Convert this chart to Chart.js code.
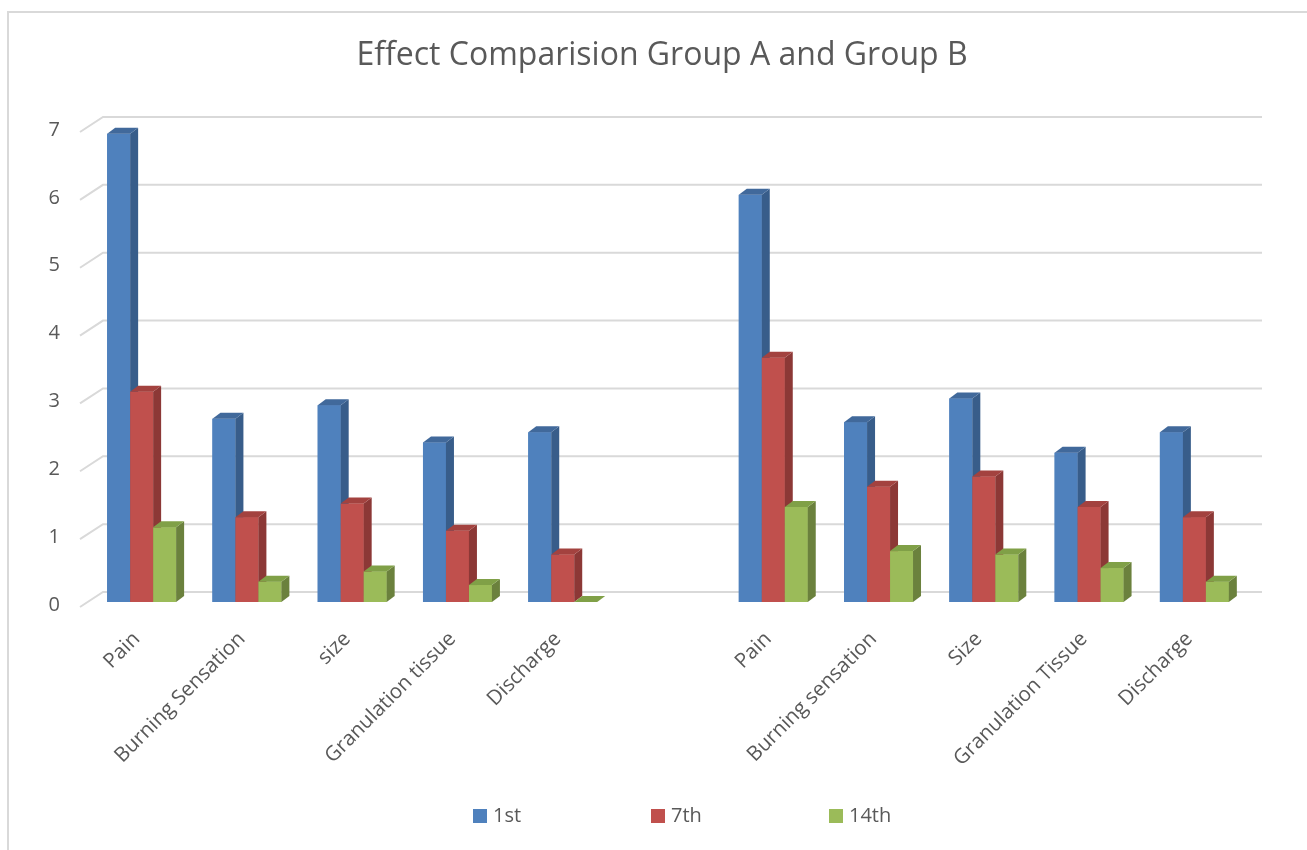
<!DOCTYPE html>
<html>
<head>
<meta charset="utf-8">
<script src="https://cdn.jsdelivr.net/npm/chart.js@4.4.1/dist/chart.umd.min.js"></script>
<style>
  html, body { margin: 0; padding: 0; background: #fff; }
  #wrap { width: 1307px; height: 850px; position: relative; }
</style>
</head>
<body>
<div id="wrap"><canvas id="effectChart" width="1307" height="850"></canvas></div>
<script>
// dados
const categories = ['Pain', 'Burning Sensation', 'size', 'Granulation tissue', 'Discharge', '',
                    'Pain', 'Burning sensation', 'Size', 'Granulation Tissue', 'Discharge'];
const day1st  = [6.9, 2.7, 2.9, 2.35, 2.5, null, 6.0, 2.65, 3.0, 2.2, 2.5];
const day7th  = [3.1, 1.25, 1.45, 1.05, 0.7, null, 3.6, 1.7, 1.85, 1.4, 1.25];
const day14th = [1.1, 0.3, 0.45, 0.25, 0, null, 1.4, 0.75, 0.7, 0.5, 0.3];
const seriesNames = ['1st', '7th', '14th'];
const yTicks = [0, 1, 2, 3, 4, 5, 6, 7];
const titleText = 'Effect Comparision Group A and Group B';

const FONT = '"Open Sans", "DejaVu Sans", sans-serif';
const TXT = '#595959';
const colors = [
    { front: '#4F81BD', side: '#385D8A', top: '#41699B' },
    { front: '#C0504D', side: '#8C3836', top: '#A3423F' },
    { front: '#9BBB59', side: '#6B813D', top: '#80A047' }
];
const DX = 8, DY = 6;

// paredes / grade em perspectiva
const gridPlugin = {
    id: 'grid3d',
    beforeDatasetsDraw(c) {
        const y = c.scales.y, a = c.chartArea, ctx = c.ctx;
        ctx.save();
        ctx.strokeStyle = '#D9D9D9';
        ctx.lineWidth = 2;
        yTicks.forEach(v => {
            const py = y.getPixelForValue(v);
            ctx.beginPath();
            ctx.moveTo(a.left - 9, py + 5);
            ctx.lineTo(a.left + 14, py - 10);
            ctx.lineTo(a.right + 15, py - 10);
            ctx.stroke();
        });
        ctx.restore();
    }
};

// redesenha as barras (frente, lado, topo) na ordem 1st -> 14th
const bar3dPlugin = {
    id: 'bar3d',
    afterDatasetsDraw(c) {
        const ctx = c.ctx;
        ctx.save();
        c.data.datasets.forEach((ds, di) => {
            const meta = c.getDatasetMeta(di);
            const col = colors[di];
            meta.data.forEach((bar, i) => {
                if (ds.data[i] == null) return;
                const w = bar.width, l = bar.x - w / 2, r = bar.x + w / 2;
                const top = bar.y, base = bar.base;
                ctx.fillStyle = col.front;
                ctx.fillRect(l, top, w, base - top);
                ctx.fillStyle = col.side;
                ctx.beginPath();
                ctx.moveTo(r, top); ctx.lineTo(r + DX, top - DY);
                ctx.lineTo(r + DX, base - DY); ctx.lineTo(r, base);
                ctx.closePath(); ctx.fill();
                ctx.fillStyle = col.top;
                ctx.beginPath();
                ctx.moveTo(l, top); ctx.lineTo(l + DX, top - DY);
                ctx.lineTo(r + DX, top - DY); ctx.lineTo(r, top);
                ctx.closePath(); ctx.fill();
            });
        });
        ctx.restore();
    }
};

// moldura, título e legenda
const framePlugin = {
    id: 'frame',
    beforeDraw(c) {
        const ctx = c.ctx;
        ctx.save();
        ctx.strokeStyle = '#D9D9D9';
        ctx.lineWidth = 2;
        ctx.strokeRect(8, 12, 1320, 860);
        ctx.restore();
    },
    afterDraw(c) {
        const ctx = c.ctx;
        ctx.save();
        ctx.fillStyle = TXT;
        ctx.font = '32px ' + FONT;
        ctx.textAlign = 'center';
        ctx.textBaseline = 'middle';
        ctx.fillText(titleText, 662, 56);

        ctx.font = '20px ' + FONT;
        ctx.textAlign = 'left';
        const startX = 473, slot = 178, ly = 816;
        seriesNames.forEach((n, i) => {
            const x = startX + i * slot;
            ctx.fillStyle = colors[i].front;
            ctx.fillRect(x, ly - 7, 14, 14);
            ctx.fillStyle = TXT;
            ctx.fillText(n, x + 20, ly);
        });
        ctx.restore();
    }
};

const ctx = document.getElementById('effectChart').getContext('2d');
const chart = new Chart(ctx, {
    type: 'bar',
    data: {
        labels: categories,
        datasets: [day1st, day7th, day14th].map((d, i) => ({
            label: seriesNames[i],
            data: d,
            backgroundColor: colors[i].front,
            borderWidth: 0,
            categoryPercentage: 0.655,
            barPercentage: 1
        }))
    },
    options: {
        responsive: false,
        animation: false,
        layout: { padding: { left: 18, right: 60, top: 127, bottom: 0 } },
        plugins: {
            legend: { display: false },
            title: { display: false },
            tooltip: { enabled: false }
        },
        scales: {
            x: {
                grid: { display: false },
                border: { display: false },
                ticks: {
                    autoSkip: false,
                    maxRotation: 45,
                    minRotation: 45,
                    padding: 17,
                    labelOffset: -5,
                    color: TXT,
                    font: { family: FONT, size: 20.5 }
                },
                afterFit(s) { s.height = 248; }
            },
            y: {
                min: 0,
                max: 7,
                grid: { display: false, drawTicks: false },
                border: { display: false },
                ticks: {
                    stepSize: 1,
                    padding: 29,
                    labelOffset: 3,
                    color: TXT,
                    font: { family: FONT, size: 20 }
                },
                afterFit(s) { s.width = 71; }
            }
        }
    },
    plugins: [framePlugin, gridPlugin, bar3dPlugin]
});
</script>
</body>
</html>
